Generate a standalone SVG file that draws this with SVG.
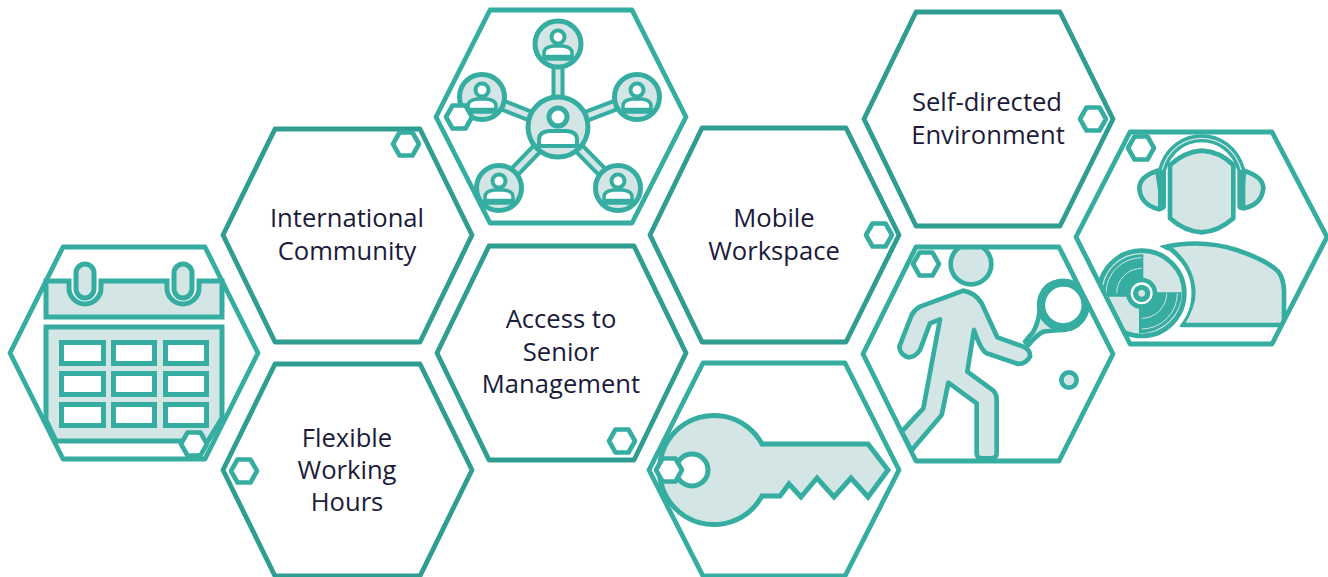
<svg xmlns="http://www.w3.org/2000/svg" xmlns:xlink="http://www.w3.org/1999/xlink" width="1328" height="577" viewBox="0 0 1328 577">
<style>
.hx{fill:none;stroke:#36ada1;stroke-width:4.8;stroke-linejoin:round}
.dk{stroke:#2f9e91}
.sm{fill:#fff;stroke:#36ada1;stroke-width:4.6;stroke-linejoin:round}
.ic{fill:#d3e5e4;stroke:#36ada1;stroke-width:14;stroke-linejoin:round}
.cl{fill:#d3e5e4;stroke:#36ada1;stroke-width:5}
.wh{fill:#fff;stroke:#36ada1;stroke-width:5}
.pw{fill:#fff;stroke:#36ada1;stroke-width:4;stroke-linejoin:round}
.t{font-family:"Open Sans","Noto Sans",sans-serif;font-size:25.600px;fill:#1b1b3a;text-anchor:middle}
</style>
<defs>
<polygon id="shex" points="-13,0 -6.500,-11.500 6.500,-11.500 13,0 6.500,11.500 -6.500,11.500"/>
<g id="psm"><circle cx="0" cy="-7" r="6.500" class="pw"/><path d="M-14,15V9Q-14,3-5,2H5Q14,3 14,9V15Z" class="pw" style="stroke-width:3.500"/><path d="M-14,12.500H14" stroke="#36ada1" stroke-width="3.500"/></g>
<clipPath id="cTen"><polygon points="863,354 916,247 1059,247 1113,354 1059,461 916,461"/></clipPath>
<clipPath id="cDj"><polygon points="1076,237 1130,132 1272,132 1327,237 1272,344 1130,344"/></clipPath>
</defs>

<g id="connectors"></g>

<g id="node-calendar">
<path class="cl" d="M46,281H69V288A16,16 0 0 0 101,288V281H167V288A16,16 0 0 0 199,288V281H222V317H46Z"/>
<rect class="cl" x="76" y="264" width="18" height="34" rx="9"/>
<rect class="cl" x="174" y="264" width="18" height="34" rx="9"/>
<polygon class="cl" points="46,327 222,327 222,418 208,441 56,441 46,420"/>
<g class="wh">
<rect x="61.500" y="342.500" width="42" height="21"/><rect x="113.500" y="342.500" width="41" height="21"/><rect x="165.500" y="342.500" width="41" height="21"/>
<rect x="61.500" y="373.500" width="42" height="21"/><rect x="113.500" y="373.500" width="41" height="21"/><rect x="165.500" y="373.500" width="41" height="21"/>
<rect x="61.500" y="404.500" width="42" height="21"/><rect x="113.500" y="404.500" width="41" height="21"/><rect x="165.500" y="404.500" width="41" height="21"/>
</g>
<polygon class="hx" points="10,353 63,247 205,247 258,353 205,459 63,459"/>
<use href="#shex" class="sm" x="194" y="444"/>
</g>

<g id="node-international">
<polygon class="hx dk" points="223,235 275,129 420,129 472,235 420,342 275,342"/>
<use href="#shex" class="sm" x="406" y="144"/>
<text class="t" x="347" y="227">International</text>
<text class="t" x="347" y="260">Community</text>
</g>

<g id="node-flexible">
<polygon class="hx dk" points="223,470 275,364 420,364 472,470 420,576 275,576"/>
<use href="#shex" class="sm" x="244" y="471"/>
<text class="t" x="347" y="447">Flexible</text>
<text class="t" x="347" y="479">Working</text>
<text class="t" x="347" y="511">Hours</text>
</g>

<g id="node-access">
<polygon class="hx dk" points="437,353 489,246 634,246 686,353 634,460 489,460"/>
<use href="#shex" class="sm" x="622" y="441"/>
<text class="t" x="561" y="328">Access to</text>
<text class="t" x="561" y="361">Senior</text>
<text class="t" x="561" y="393">Management</text>
</g>

<g id="node-network">
<g stroke="#36ada1" stroke-width="13"><path d="M558,127V44M558,127L482,97M558,127L637,97M558,127L499,188M558,127L618,188"/></g>
<g stroke="#d3e5e4" stroke-width="5"><path d="M558,127V44M558,127L482,97M558,127L637,97M558,127L499,188M558,127L618,188"/></g>
<g fill="#d3e5e4" stroke="#36ada1" stroke-width="5">
<circle cx="558" cy="127" r="30"/><circle cx="558" cy="44" r="23"/><circle cx="482" cy="97" r="22.500"/><circle cx="637" cy="97" r="22.500"/><circle cx="499" cy="188" r="22.500"/><circle cx="618" cy="188" r="22.500"/>
</g>
<circle cx="558" cy="117" r="9" class="pw" style="stroke-width:5"/>
<path d="M539,146V139Q539,132 549,131H567Q577,132 577,139V146Z" class="pw"/>
<use href="#psm" x="558" y="44"/><use href="#psm" x="482" y="97"/><use href="#psm" x="637" y="97"/><use href="#psm" x="499" y="188"/><use href="#psm" x="618" y="188"/>
<polygon class="hx" points="436,117 490,10 632,10 686,117 632,223 490,223"/>
<use href="#shex" class="sm" x="459" y="117"/>
</g>

<g id="node-mobile">
<polygon class="hx dk" points="650,235 702,128 846,128 899,235 846,342 702,342"/>
<use href="#shex" class="sm" x="879" y="235"/>
<text class="t" x="774" y="227">Mobile</text>
<text class="t" x="774" y="260">Workspace</text>
</g>

<g id="node-key">
<path d="M762,444H868L888,470L868,497L851,478L834,497L817,478L801,497L789,484L780,496H762A54.600,54.600 0 1 1 762,444Z" fill="#d3e5e4" stroke="#36ada1" stroke-width="5" stroke-linejoin="miter"/>
<circle cx="692" cy="470" r="16" class="wh"/>
<polygon class="hx" points="649,470 703,363 845,363 899,470 845,576 703,576"/>
<use href="#shex" class="sm" x="669" y="470"/>
</g>

<g id="node-self">
<polygon class="hx dk" points="864,119 916,12 1060,12 1113,119 1060,226 916,226"/>
<use href="#shex" class="sm" x="1093" y="119"/>
<text class="t" x="987" y="111">Self-directed</text>
<text class="t" x="988" y="144">Environment</text>
</g>

<g id="node-tennis">
<g clip-path="url(#cTen)"><g transform="translate(860,240) scale(.33333)">
<circle class="ic" cx="333" cy="72" r="61"/>
<path class="ic" d="M495,305L520,275Q540,240 540,190Q545,125 610,125Q680,130 680,195Q675,262 610,270Q570,272 550,275Q530,285 505,315Z"/>
<circle cx="610" cy="195" r="67" fill="#fff" stroke="#36ada1" stroke-width="25"/>
<path class="ic" d="M310,152Q345,158 365,190L412,292L490,320Q512,330 510,350Q498,372 475,372L380,340Q362,330 342,270L322,395L400,452Q410,462 410,480V640Q410,655 395,655H365Q350,655 350,640V490L265,428L245,525L160,625L155,632L125,575L190,505L240,238L210,250L180,330Q165,352 145,352Q120,345 118,320L155,225Q165,208 180,200Z"/>
<circle class="ic" cx="627" cy="420" r="23"/>
</g></g>
<polygon class="hx" points="863,354 916,247 1059,247 1113,354 1059,461 916,461"/>
<use href="#shex" class="sm" x="926" y="264"/>
</g>

<g id="node-dj">
<g clip-path="url(#cDj)"><g transform="translate(1070,120) scale(.33333)">
<path class="ic" d="M300,135Q345,95 395,92Q450,95 490,135V295Q445,335 395,337Q345,335 300,295Z"/>
<path class="ic" d="M262,152Q208,170 208,205Q212,255 268,268Q278,265 278,255Z"/>
<path class="ic" d="M522,152Q580,170 580,205Q575,255 520,265Q512,265 512,255Z"/>
<path d="M276,258V150C295,85 345,55 395,55C445,55 495,85 514,150V258" fill="none" stroke="#36ada1" stroke-width="24" stroke-linecap="round"/>
<path d="M276,150C295,85 345,55 395,55C445,55 495,85 514,150" fill="none" stroke="#d3e5e4" stroke-width="4"/>
<path class="ic" d="M275,383Q390,355 500,390Q590,420 625,455Q640,475 642,510V615H335Q370,560 370,520Q368,440 300,385Z"/>
<circle cx="215" cy="520" r="144" fill="none" stroke="#fff" stroke-width="11"/>
<circle cx="215" cy="520" r="128" fill="#d3e5e4" stroke="#36ada1" stroke-width="14"/>
<path d="M220,530V403A117,117 0 0 0 98,530Z" fill="#36ada1"/>
<path d="M207,517H335A128,123 0 0 1 207,640Z" fill="#36ada1"/>
<g fill="none" stroke="#d3e5e4" stroke-width="3">
<path d="M215,445A75,75 0 0 0 140,520"/><path d="M215,413A107,107 0 0 0 108,520"/>
<path d="M290,520A75,75 0 0 1 215,595"/><path d="M322,520A107,107 0 0 1 215,627"/>
</g>
<circle cx="215" cy="520" r="47" fill="#36ada1"/>
<circle cx="215" cy="520" r="33" fill="#fff"/>
<circle cx="215" cy="520" r="26" fill="#36ada1"/>
<circle cx="215" cy="520" r="10" fill="#d3e5e4"/>
</g></g>
<polygon class="hx" points="1076,237 1130,132 1272,132 1327,237 1272,344 1130,344"/>
<use href="#shex" class="sm" x="1141" y="148"/>
</g>
</svg>
